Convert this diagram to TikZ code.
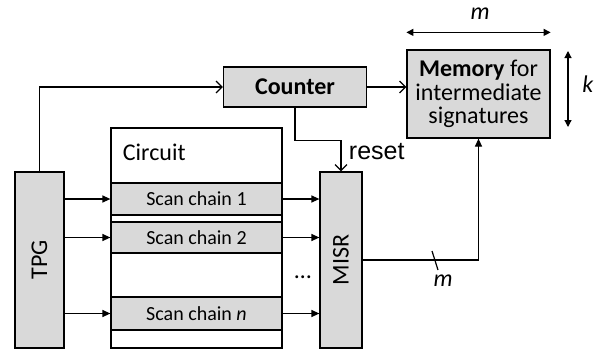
\documentclass[tikz,border=0pt]{standalone}
\usepackage{fontspec}
\setmainfont{Carlito}
\newfontfamily\arialfont{Liberation Sans}
\usetikzlibrary{positioning,arrows.meta}

\tikzset{
	block/.style={draw,fill=black!15,inner sep=0pt},
	tri/.style={-{Triangle[length=8pt,width=7pt]}},
	barb/.style={-{Straight Barb[length=6pt,width=12pt]}},
	dimline/.style={{Triangle[length=7pt,width=7pt]}-{Triangle[length=7pt,width=7pt]}},
	big/.style={font=\fontsize{24}{23.5}\selectfont},
	small/.style={font=\fontsize{20}{24}\selectfont}
}

\begin{document}
\begin{tikzpicture}[x=1pt,y=-1pt,line width=1.2pt]
	\useasboundingbox (0,0) rectangle (605,349);

	% blocks
	\node[block,big,minimum width=49pt,minimum height=176pt] (tpg) at (39.5,260) {\rotatebox{90}{TPG}};
	\node[draw,fill=white,minimum width=171pt,minimum height=220pt] (circuit) at (196.5,238) {};
	\node[big,anchor=west] (circlabel) at (119,152) {Circuit};
	\node[block,small,minimum width=171pt,minimum height=32pt] (sc1) at (196.5,199) {Scan chain 1};
	\node[block,small,minimum width=171pt,minimum height=31pt] (sc2) at (196.5,237.5) {Scan chain 2};
	\node[block,small,minimum width=171pt,minimum height=33pt] (scn) at (196.5,313.5) {Scan chain \textit{n}};
	\node[block,big,minimum width=42pt,minimum height=176pt] (misr) at (341,260) {\rotatebox{90}{MISR}};
	\node[block,big,minimum width=143pt,minimum height=40pt] (counter) at (295,87) {\textbf{Counter}};
	\node[block,big,align=center,minimum width=143pt,minimum height=88pt] (mem) at (478.5,94) {\textbf{Memory} for\\intermediate\\signatures};
	\node[big] (dots) at (303,277) {\dots};

	% scan chains
	\foreach \s in {sc1,sc2,scn}{
		\draw[tri] (tpg.east |- \s) -- (\s.west);
		\draw[tri] (\s.east) -- (\s.east -| misr.west);
	}

	% control
	\draw[barb] (tpg.north) |- (counter.west);
	\draw[barb] (counter.east) -- (counter.east -| mem.west);
	\draw[barb] (counter.south) -- ++(0,33) -| (misr.north);
	\node[font=\arialfont\fontsize{25}{25}\selectfont,anchor=west] (reset) at (345,152) {reset};

	% signature bus
	\draw[tri] (misr.east) -| (mem.south);
	\coordinate (bus) at (435,260);
	\draw ([shift={(-3,-9)}]bus) -- ([shift={(3,10)}]bus);
	\node[big] (busw) at (443,281) {\textit{m}};

	% memory size
	\draw[dimline] (mem.north west) ++(0,-17) coordinate (mw) -- (mw -| mem.north east);
	\node[big] (mlabel) at (480,14) {\textit{m}};
	\draw[dimline] (568,51) coordinate (kt) -- (568,127);
	\node[big] (klabel) at (588,84) {\textit{k}};
\end{tikzpicture}
\end{document}
